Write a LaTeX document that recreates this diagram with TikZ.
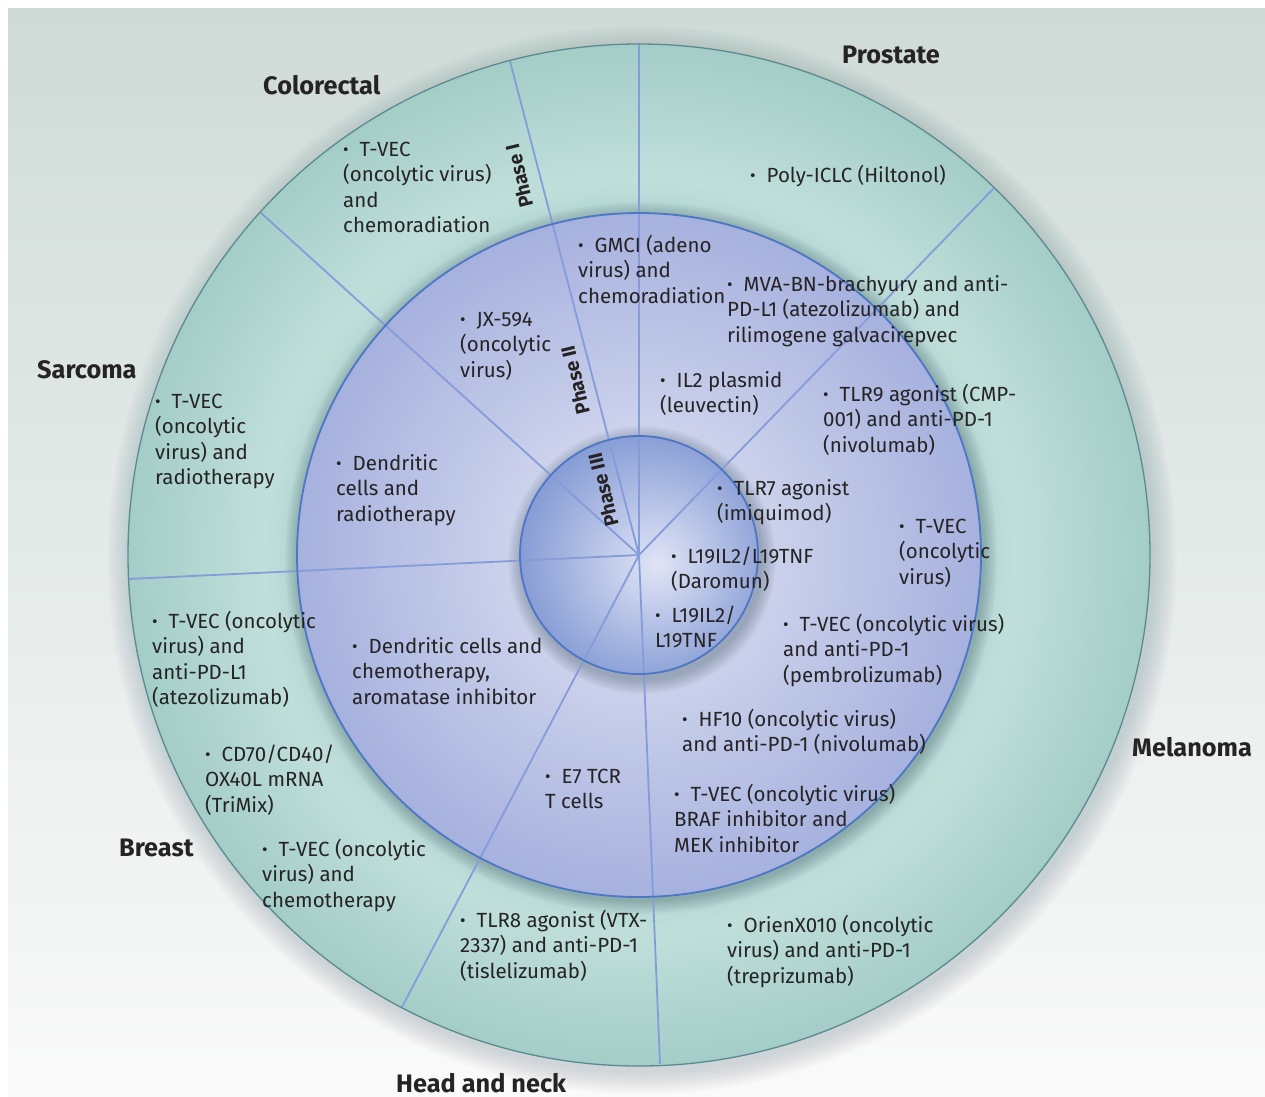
\documentclass[tikz,border=0pt]{standalone}
\usepackage{fontspec}
\setmainfont{Fira Sans}
\usetikzlibrary{calc}
\definecolor{txt}{RGB}{38,35,37}
\definecolor{bgtop}{RGB}{207,219,215}
\definecolor{bgmid}{RGB}{228,232,230}
\definecolor{bgbot}{RGB}{250,250,250}
\definecolor{tealA}{RGB}{196,225,221}
\definecolor{tealB}{RGB}{178,214,210}
\definecolor{tealC}{RGB}{192,223,219}
\definecolor{tealD}{RGB}{164,205,200}
\definecolor{midA}{RGB}{216,221,241}
\definecolor{midB}{RGB}{205,211,236}
\definecolor{midC}{RGB}{166,177,222}
\definecolor{innA}{RGB}{224,228,244}
\definecolor{innB}{RGB}{198,207,236}
\definecolor{innC}{RGB}{134,156,213}
\definecolor{outerline}{RGB}{92,138,145}
\definecolor{blueline}{RGB}{78,118,198}
\definecolor{radline}{RGB}{134,156,218}
\definecolor{shadowc}{RGB}{30,55,65}
\pgfdeclareradialshading{outerS}{\pgfpoint{0bp}{0bp}}{color(0bp)=(tealA); color(16.7bp)=(tealB); color(18.4bp)=(tealC); color(25bp)=(tealD); color(50bp)=(tealD)}
\pgfdeclareradialshading{midS}{\pgfpoint{0bp}{0bp}}{color(0bp)=(midA); color(9bp)=(midB); color(25bp)=(midC); color(50bp)=(midC)}
\pgfdeclareradialshading{innS}{\pgfpoint{4bp}{-2bp}}{color(0bp)=(innA); color(8bp)=(innB); color(27bp)=(innC); color(50bp)=(innC)}
\newcommand\bul{\makebox[16.5pt][l]{\raisebox{0.2pt}{\fontsize{17}{17}\selectfont •}}}
\tikzset{
  item/.style={anchor=base west, inner sep=0pt, align=left, text=txt, font=\fontsize{20.5}{25.5}\selectfont},
  lab/.style={anchor=base west, inner sep=0pt, text=txt, font=\fontsize{25.3}{28}\selectfont\bfseries},
  phase/.style={inner sep=0pt, text=txt, font=\fontsize{19.5}{21}\selectfont\bfseries},
  radial/.style={draw=radline, line width=1.8pt},
}
\begin{document}
\begin{tikzpicture}[x=1pt,y=-1pt]
\useasboundingbox (0,0) rectangle (1265,1096);
\fill[white] (0,0) rectangle (1265,1096);
\shade[top color=bgtop, middle color=bgmid, bottom color=bgbot] (8,8) rectangle (1265,1096);
\coordinate (C) at (639,555);
\coordinate (L1) at (639,43);
\coordinate (L2) at (510,61);
\coordinate (L3) at (994,188);
\coordinate (L4) at (260,212);
\coordinate (L5) at (128,579);
\coordinate (L6) at (402,1007);
\coordinate (L7) at (660,1064);
% outer shadow
\foreach \i in {1,...,14} \fill[shadowc, opacity=0.013] ($(C)+(3,5)$) circle [radius={511pt+1.7pt*\i}];
\shade[shading=outerS] (C) circle [radius=511pt];
% middle shadow
\foreach \i in {1,...,10} \fill[shadowc, opacity=0.028] ($(C)+(2,3)$) circle [radius={342pt+1.4pt*\i}];
\shade[shading=midS] (C) circle [radius=342pt];
% inner shadow
\foreach \i in {1,...,10} \fill[shadowc, opacity=0.03] ($(C)+(3,5)$) circle [radius={119pt+1.5pt*\i}];
\shade[shading=innS] (C) circle [radius=119pt];
% radial lines
\foreach \p in {L1,L2,L3,L4,L5,L6,L7} \draw[radial] (C) -- (\p);
% borders
\draw[outerline, line width=1.3pt] (C) circle [radius=511pt];
\draw[blueline, line width=1.8pt] (C) circle [radius=342pt];
\draw[blueline, line width=1.8pt] (C) circle [radius=119pt];
% sector labels
\node[lab] (colorectal) at (263,94) {Colorectal};
\node[lab] (prostate) at (842,63) {Prostate};
\node[lab] (sarcoma) at (37,378) {Sarcoma};
\node[lab] (melanoma) at (1132,756) {Melanoma};
\node[lab] (breast) at (119,856) {Breast};
\node[lab] (headneck) at (396,1092) {Head and neck};
% phase labels
\node[phase, rotate=103.5] (ph1) at (519,176) {Phase I};
\node[phase, rotate=103.5] (ph2) at (575,380) {Phase II};
\node[phase, rotate=103.5] (ph3) at (603,490) {Phase III};
% outer ring items (anchor = baseline of last line)
\node[item] (t1) at (343,232.5) {\bul T-VEC\\(oncolytic virus)\\and\\chemoradiation};
\node[item] (t2) at (750,182) {\bul Poly-ICLC (Hiltonol)};
\node[item] (t3) at (155,484.5) {\bul T-VEC\\(oncolytic\\virus) and\\radiotherapy};
\node[item] (t4) at (152,704.5) {\bul T-VEC (oncolytic\\virus) and\\anti-PD-L1\\(atezolizumab)};
\node[item] (t5) at (205,812) {\bul CD70/CD40/\\OX40L mRNA\\(TriMix)};
\node[item] (t6) at (262,907) {\bul T-VEC (oncolytic\\virus) and\\chemotherapy};
\node[item] (t7) at (460,978) {\bul TLR8 agonist (VTX-\\2337) and anti-PD-1\\(tislelizumab)};
\node[item] (t8) at (727,983) {\bul OrienX010 (oncolytic\\virus) and anti-PD-1\\(treprizumab)};
% middle ring items
\node[item] (t9) at (578,303) {\bul GMCI (adeno\\virus) and\\chemoradiation};
\node[item] (t10) at (727,342) {\bul MVA-BN-brachyury and anti-\\PD-L1 (atezolizumab) and\\rilimogene galvacirepvec};
\node[item] (t11) at (460,377) {\bul JX-594\\(oncolytic\\virus)};
\node[item] (t12) at (660,412.5) {\bul IL2 plasmid\\(leuvectin)};
\node[item] (t13) at (823,452) {\bul TLR9 agonist (CMP-\\001) and anti-PD-1\\(nivolumab)};
\node[item] (t14) at (336,521) {\bul Dendritic\\cells and\\radiotherapy};
\node[item] (t15) at (899,584) {\bul T-VEC\\(oncolytic\\virus)};
\node[item] (t16) at (352,704) {\bul Dendritic cells and\\chemotherapy,\\aromatase inhibitor};
\node[item] (t17) at (783,682) {\bul T-VEC (oncolytic virus)\\and anti-PD-1\\(pembrolizumab)};
\node[item] (t18) at (682,751.5) {\bul HF10 (oncolytic virus)\\and anti-PD-1 (nivolumab)};
\node[item] (t19) at (545,808.5) {\bul E7 TCR\\T cells};
\node[item] (t20) at (674,852) {\bul T-VEC (oncolytic virus)\\BRAF inhibitor and\\MEK inhibitor};
% inner circle items
\node[item] (t21) at (717,520.5) {\bul TLR7 agonist\\(imiquimod)};
\node[item] (t22) at (671,588.5) {\bul L19IL2/L19TNF\\(Daromun)};
\node[item] (t23) at (655,647.5) {\bul L19IL2/\\L19TNF};
\end{tikzpicture}
\end{document}
